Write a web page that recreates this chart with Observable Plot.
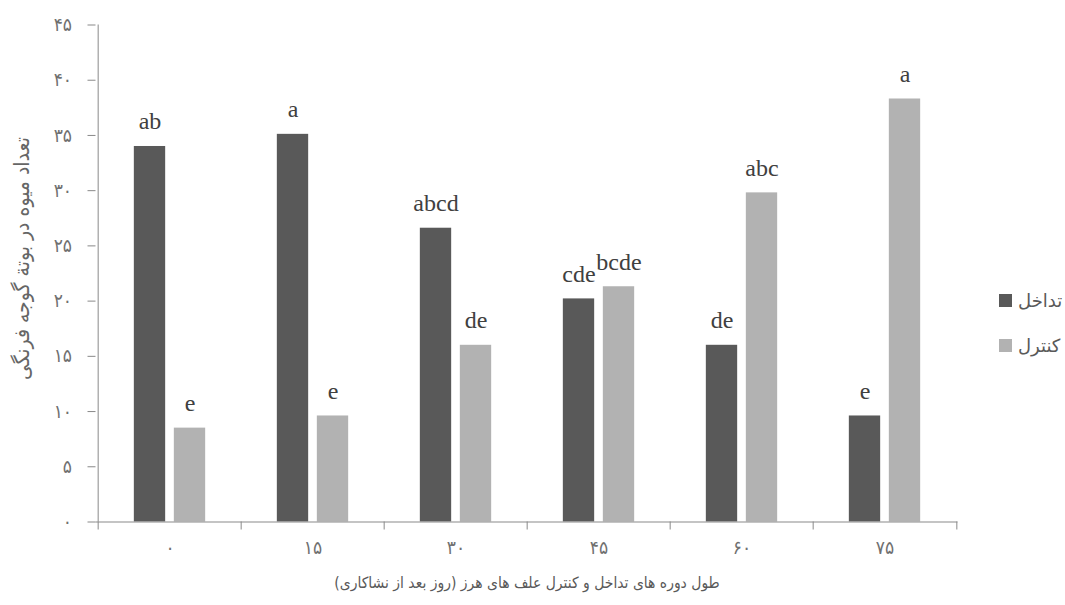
<!DOCTYPE html>
<html>
<head>
<meta charset="utf-8">
<script src="https://cdn.jsdelivr.net/npm/d3@7"></script>
<script src="https://cdn.jsdelivr.net/npm/@observablehq/plot@0.6"></script>
<style>
  body { margin: 0; background: #fff; }
  #chart { position: relative; width: 1065px; height: 605px; }
  g[aria-label="titles"] text { direction: rtl; }
  .legend-item {
    position: absolute; left: 999px; height: 26px;
    display: flex; align-items: center; gap: 6px;
    font-family: "DejaVu Sans", sans-serif;
    font-size: 18px; color: #595959; direction: ltr;
  }
  .legend-item .sw { width: 13px; height: 13px; display: inline-block; }
</style>
</head>
<body>
<div id="chart"></div>
<script>
// Days after transplanting (weed interference / weed-free periods)
const days = [0, 15, 30, 45, 60, 75];
// Fruit number per tomato plant
const interference = [34.0, 35.1, 26.6, 20.2, 16.0, 9.6];
const control = [8.5, 9.6, 16.0, 21.3, 29.8, 38.3];
// Mean-comparison letters
const interferenceLetters = ["ab", "a", "abcd", "cde", "de", "e"];
const controlLetters = ["e", "e", "de", "bcde", "abc", "a"];
const seriesNames = ["تداخل", "کنترل"];
const seriesColors = ["#595959", "#b2b2b2"];
const yTicks = [0, 5, 10, 15, 20, 25, 30, 35, 40, 45];
const xTitle = "طول دوره های تداخل و کنترل علف های هرز (روز بعد از نشاکاری)";
const yTitle = "تعداد میوه در بوتة گوجه فرنگی";

const faDigits = "۰۱۲۳۴۵۶۷۸۹";
const fa = (n) => String(n).replace(/\d/g, (d) => faDigits[d]);

const W = 1065, H = 605;
const mL = 95.5, mR = 107.5, mT = 24.5, mB = 83.5;
const bw = (W - mL - mR) / days.length;
const barW = 32, gap = 8;
const inner = (bw - 2 * barW - gap) / 2;

const rowsA = days.map((d, i) => ({day: d, value: interference[i], letter: interferenceLetters[i]}));
const rowsB = days.map((d, i) => ({day: d, value: control[i], letter: controlLetters[i]}));

const axisGray = "#898989";
const textGray = "#595959";
const tickGray = "#707070";
const labelFont = "Liberation Serif, Times New Roman, serif";
const faFont = "DejaVu Sans Condensed, DejaVu Sans, sans-serif";

const chart = Plot.plot({
  width: W,
  height: H,
  marginLeft: mL,
  marginRight: mR,
  marginTop: mT,
  marginBottom: mB,
  style: {fontFamily: faFont, fontSize: "15px", background: "#fff"},
  x: {type: "band", domain: days, padding: 0, label: null},
  y: {domain: [0, 45], label: null},
  marks: [
    Plot.barY(rowsA, {x: "day", y: "value", fill: seriesColors[0], insetLeft: inner, insetRight: inner + barW + gap}),
    Plot.barY(rowsB, {x: "day", y: "value", fill: seriesColors[1], insetLeft: inner + barW + gap, insetRight: inner}),
    Plot.text(rowsA, {x: "day", y: "value", text: "letter", dx: -(barW + gap) / 2, dy: -17, lineAnchor: "bottom",
      fontFamily: labelFont, fontSize: 24, fill: "#404040"}),
    Plot.text(rowsB, {x: "day", y: "value", text: "letter", dx: (barW + gap) / 2, dy: -17, lineAnchor: "bottom",
      fontFamily: labelFont, fontSize: 24, fill: "#404040"}),
    // axis lines
    Plot.ruleY([0], {stroke: axisGray}),
    Plot.ruleX([days[0]], {x: (d) => d, dx: -bw / 2, stroke: axisGray}),
    // category boundary ticks
    Plot.ruleX(days, {x: (d) => d, y1: 0, y2: 0, dx: -bw / 2, insetBottom: -8, stroke: axisGray}),
    Plot.ruleX([days[days.length - 1]], {x: (d) => d, y1: 0, y2: 0, dx: bw / 2, insetBottom: -8, stroke: axisGray}),
    Plot.axisY({ticks: yTicks, tickFormat: fa, tickSize: 8, tickPadding: 16, fontSize: 19, stroke: axisGray, fill: tickGray, label: null}),
    Plot.axisX({tickSize: 0, tickPadding: 18, tickFormat: fa, fontSize: 19, fill: tickGray, label: null}),
    Plot.text([xTitle], {text: (d) => d, frameAnchor: "bottom", dy: 66, textAnchor: "middle", fontSize: 15.5, fill: textGray, ariaLabel: "titles"}),
    Plot.text([yTitle], {text: (d) => d, frameAnchor: "left", dx: -74, dy: -15, textAnchor: "middle", rotate: -90, fontSize: 21, fill: "#666", ariaLabel: "titles"})
  ]
});

const root = document.getElementById("chart");
root.appendChild(chart);

// legend on the right
const legendTops = [287, 332];
seriesNames.forEach((name, i) => {
  const item = document.createElement("div");
  item.className = "legend-item";
  item.style.top = legendTops[i] + "px";
  const sw = document.createElement("span");
  sw.className = "sw";
  sw.style.background = seriesColors[i];
  const label = document.createElement("span");
  label.textContent = name;
  item.appendChild(sw);
  item.appendChild(label);
  root.appendChild(item);
});
</script>
</body>
</html>
